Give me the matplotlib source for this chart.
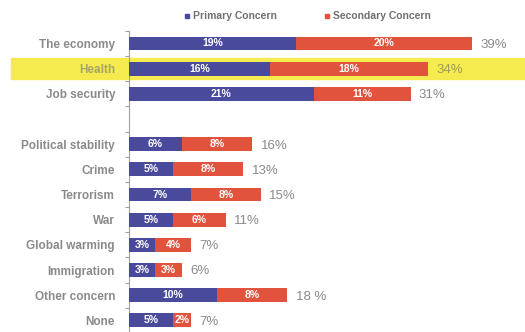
import numpy as np
import matplotlib.pyplot as plt
from matplotlib.patches import Rectangle
from matplotlib.lines import Line2D
import matplotlib.transforms as mtransforms

plt.rcParams['font.family'] = ['Liberation Sans', 'DejaVu Sans']

categories = ['The economy', 'Health', 'Job security', 'Political stability', 'Crime',
              'Terrorism', 'War', 'Global warming', 'Immigration', 'Other concern', 'None']
primary = [19, 16, 21, 6, 5, 7, 5, 3, 3, 10, 5]
secondary = [20, 18, 11, 8, 8, 8, 6, 4, 3, 8, 2]
totals = ['39%', '34%', '31%', '16%', '13%', '15%', '11%', '7%', '6%', '18 %', '7%']
highlight = 'Health'

BLUE = '#4a4a9c'
RED = '#e1533d'
YELLOW = '#f6eb4e'
GREY = '#8a8a8a'

# empty slot after the first three rows
idx = np.arange(len(categories))
ypos = idx + (idx >= 3)

fig = plt.figure(figsize=(5.25, 3.32), dpi=100)
ax = fig.add_axes([129 / 525, -0.003, 1 - 129 / 525, 0.91])

p = np.array(primary)
s = np.array(secondary)
ax.barh(ypos, p, height=0.55, color=BLUE, label='Primary Concern', zorder=3)
ax.barh(ypos, s, left=p, height=0.55, color=RED, label='Secondary Concern', zorder=3)

for y, a, b, t, c in zip(ypos, p, s, totals, categories):
    ax.text(a / 2, y, f'{a}%', ha='center', va='center', color='white',
            fontsize=7.5, fontweight='bold', zorder=4)
    ax.text(a + b / 2, y, f'{b}%', ha='center', va='center', color='white',
            fontsize=7.5, fontweight='bold', zorder=4)
    col = '#9c9a5c' if c == highlight else GREY
    ax.annotate(t, (a + b, y), xytext=(6, -1), textcoords='offset points',
                ha='left', va='center', fontsize=9.5, color=col, zorder=4)

# yellow highlight band across the whole row, behind bars and labels
hy = ypos[categories.index(highlight)]
trans = mtransforms.blended_transform_factory(fig.transFigure, ax.transData)
ax.add_patch(Rectangle((0.02, hy - 0.42), 0.98, 0.84, transform=trans,
                       color=YELLOW, zorder=0, clip_on=False))

ax.set_xlim(0, 45)
ax.set_ylim(11.5, -0.5)
ax.set_yticks(ypos)
ax.set_yticklabels(categories, fontsize=8.5, fontweight='bold', color=GREY)
for lbl in ax.get_yticklabels():
    if lbl.get_text() == highlight:
        lbl.set_color('#a8a46a')
ax.set_yticks(np.arange(-0.5, 12, 1), minor=True)
ax.tick_params(axis='y', which='major', length=0, pad=10)
ax.tick_params(axis='y', which='minor', length=3, color='#a0a0a0', width=0.8)
ax.set_xticks([])
for side in ['top', 'right', 'bottom']:
    ax.spines[side].set_visible(False)
ax.spines['left'].set_color('#a0a0a0')
ax.spines['left'].set_linewidth(0.8)

handles = [Line2D([], [], marker='s', ls='', color=BLUE, markersize=3.5),
           Line2D([], [], marker='s', ls='', color=RED, markersize=3.5)]
fig.legend(handles, ['Primary Concern', 'Secondary Concern'], loc='center',
           bbox_to_anchor=(0.585, 0.951), ncol=2, frameon=False, handlelength=0.6,
           handletextpad=0.3, columnspacing=4.5,
           prop={'size': 7.5, 'weight': 'bold'}, labelcolor='#707070')

fig.savefig('out.png', dpi=100)
